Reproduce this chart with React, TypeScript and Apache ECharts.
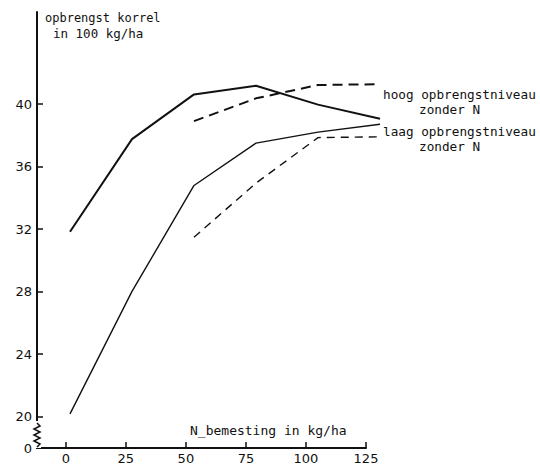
import React, { useEffect, useRef } from "react";
import * as echarts from "echarts";

// nitrogen rates (kg/ha)
const nRates = [0, 25, 50, 75, 100, 125];
// yield, high yield level, with N
const hoogMetN = [31.9, 37.8, 40.65, 41.2, 40.0, 39.1];
// yield, low yield level, with N
const laagMetN = [20.3, 28.1, 34.85, 37.55, 38.25, 38.75];
// without N reference lines (x, y)
const hoogZonderN: [number, number][] = [[50, 38.95], [75, 40.4], [100, 41.25], [125, 41.3]];
const laagZonderN: [number, number][] = [[50, 31.55], [75, 35.0], [100, 37.9], [125, 37.95]];

const yTicks = [20, 24, 28, 32, 36, 40];
const xTicks = [0, 25, 50, 75, 100, 125];
const Y_BREAK_BASE = 18; // drawn as "0" below the axis break

const FONT = "DejaVu Sans";
const LFONT = "DejaVu Sans Mono";

export default function App() {
  const ref = useRef<HTMLDivElement>(null);
  useEffect(() => {
    if (!ref.current) return;
    const chart = echarts.init(ref.current, null, { renderer: "svg" });
    const black = "#111";
    const lineData = (ys: number[]) => nRates.map((x, i) => [x, ys[i]]);

    // zigzag on the y axis between 0 and 20
    const zig: number[][] = [];
    const zTop = 423, zBot = 447;
    const steps = 8;
    for (let i = 0; i <= steps; i++) {
      zig.push([37 + (i === 0 || i === steps ? 0 : i % 2 ? 3 : -3), zTop + ((zBot - zTop) * i) / steps]);
    }

    chart.setOption({
      animation: false,
      backgroundColor: "#fff",
      grid: [
        { left: 37, right: 174, top: 12, bottom: 15 },
        { left: 70, right: 160, top: 12, bottom: 15 },
      ],
      xAxis: [
        {
          type: "value",
          gridIndex: 0,
          min: -12,
          max: 125,
          splitLine: { show: false },
          axisLine: { show: true, onZero: false, lineStyle: { color: black, width: 2 } },
          axisTick: { show: true, inside: true, length: 6, customValues: xTicks, lineStyle: { color: black, width: 1.5 } },
          axisLabel: { customValues: xTicks, color: black, fontSize: 13, fontFamily: FONT, margin: 4 },
        },
        { type: "value", gridIndex: 1, min: 0, max: 125, show: false },
      ],
      yAxis: [
        {
          type: "value",
          gridIndex: 0,
          min: Y_BREAK_BASE,
          max: 45.9,
          splitLine: { show: false },
          axisLine: { show: true, onZero: false, lineStyle: { color: black, width: 2 } },
          axisTick: { show: true, inside: true, length: 6, customValues: yTicks, lineStyle: { color: black, width: 1.5 } },
          axisLabel: {
            customValues: [Y_BREAK_BASE, ...yTicks],
            color: black,
            fontSize: 13,
            fontFamily: FONT,
            margin: 5,
            formatter: (v: number) => (v === Y_BREAK_BASE ? "0" : String(v)),
          },
        },
        { type: "value", gridIndex: 1, min: Y_BREAK_BASE, max: 45.9, show: false },
      ],
      series: [
        {
          type: "line", xAxisIndex: 1, yAxisIndex: 1, data: lineData(hoogMetN),
          symbol: "none", clip: false, lineStyle: { color: black, width: 2 },
        },
        {
          type: "line", xAxisIndex: 1, yAxisIndex: 1, data: lineData(laagMetN),
          symbol: "none", clip: false, lineStyle: { color: black, width: 1.4 },
        },
        {
          type: "line", xAxisIndex: 1, yAxisIndex: 1, data: hoogZonderN,
          symbol: "none", clip: false, lineStyle: { color: black, width: 2, type: [10, 6] },
        },
        {
          type: "line", xAxisIndex: 1, yAxisIndex: 1, data: laagZonderN,
          symbol: "none", clip: false, lineStyle: { color: black, width: 1.4, type: [8, 6] },
        },
      ],
      graphic: [
        { type: "rect", shape: { x: 33, y: 421, width: 8, height: 27 }, style: { fill: "#fff" }, z: 100 },
        { type: "polyline", shape: { points: zig }, style: { stroke: black, lineWidth: 1.5, fill: null }, z: 101 },
        { type: "text", x: 45, y: 18, style: { text: "opbrengst korrel", font: `12px ${LFONT}`, fill: black, verticalAlign: "middle" } },
        { type: "text", x: 53, y: 33, style: { text: "in 100 kg/ha", font: `12.5px ${LFONT}`, fill: black, verticalAlign: "middle" } },
        { type: "text", x: 190, y: 430, style: { text: "N_bemesting in kg/ha", font: `13px ${LFONT}`, fill: black, verticalAlign: "middle" } },
        { type: "text", x: 383, y: 94, style: { text: "hoog opbrengstniveau", font: `12.7px ${LFONT}`, fill: black, verticalAlign: "middle" } },
        { type: "text", x: 419, y: 109, style: { text: "zonder N", font: `12.7px ${LFONT}`, fill: black, verticalAlign: "middle" } },
        { type: "text", x: 383, y: 131, style: { text: "laag opbrengstniveau", font: `12.7px ${LFONT}`, fill: black, verticalAlign: "middle" } },
        { type: "text", x: 419, y: 146, style: { text: "zonder N", font: `12.7px ${LFONT}`, fill: black, verticalAlign: "middle" } },
      ],
    });
    return () => chart.dispose();
  }, []);
  return <div ref={ref} style={{ position: "fixed", left: 0, top: 0, width: 540, height: 465 }} />;
}
